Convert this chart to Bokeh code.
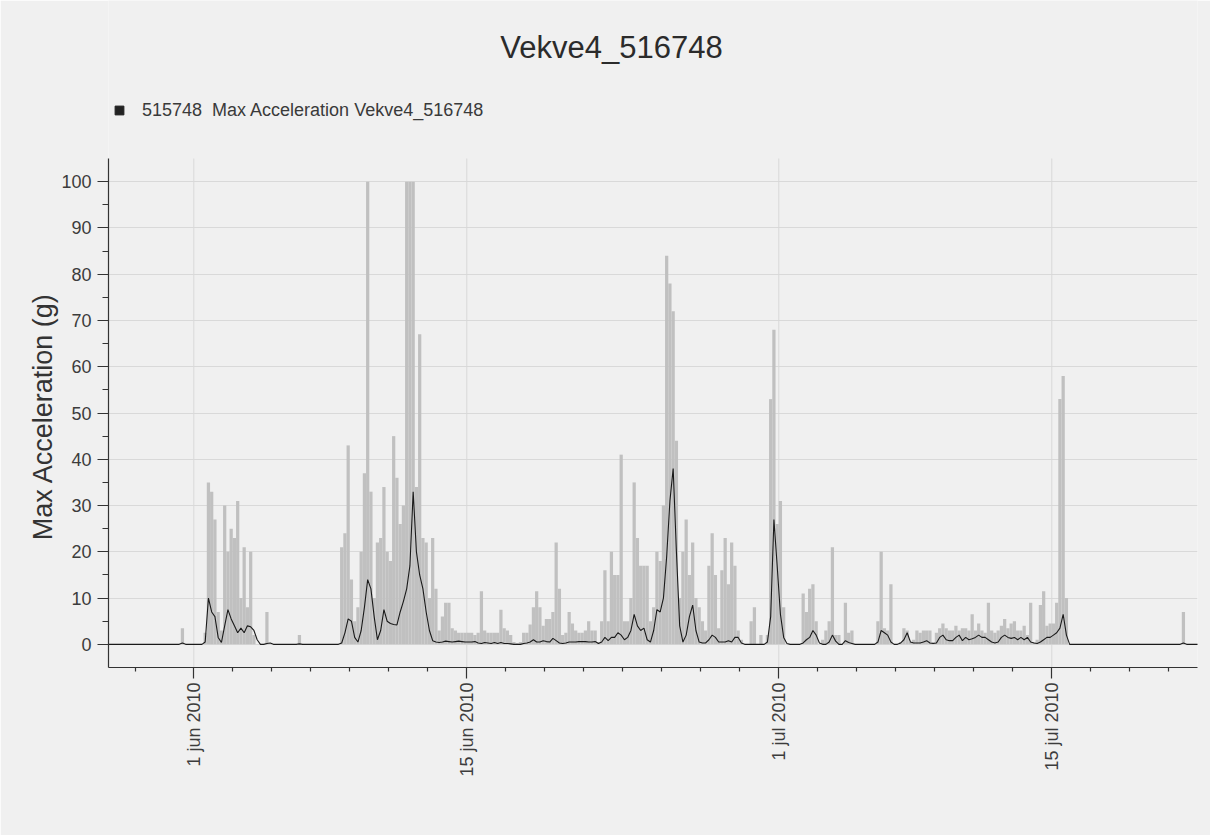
import numpy as np
from bokeh.plotting import figure
from bokeh.models import (Range1d, FixedTicker, CustomJSTickFormatter, Label,
                          Legend, LegendItem)
from bokeh.embed import file_html
from bokeh.resources import INLINE

# ---------------- data (4-hour bins, 6 values per day) ----------------
series_start = "2010-05-27T00:00"
bin_hours = 4

# gray bars: max acceleration per bin (g)
bars_may = [
    0, 0, 0, 0, 0, 0,            # 27 May
    0, 0, 0, 0, 0, 0,            # 28 May
    0, 0, 0, 0, 0, 0,            # 29 May
    0, 0, 0, 0, 0, 0,            # 30 May
    0, 0, 3.5, 0, 0, 0,          # 31 May
]
bars_jun_a = [
    0, 0, 0, 2.5, 35, 33,        # 1 Jun
    27, 7, 3, 30, 20, 25,        # 2 Jun
    23, 31, 10, 21, 8, 20,       # 3 Jun
    2, 0, 0, 0, 7, 0,            # 4 Jun
    0, 0, 0, 0, 0, 0,            # 5 Jun
    0, 0, 2, 0, 0, 0,            # 6 Jun
    0, 0, 0, 0, 0, 0,            # 7 Jun
    0, 0, 0, 21, 24, 43,         # 8 Jun
    14, 5, 8, 20, 37, 100,       # 9 Jun
    33, 10, 22, 23, 34, 20,      # 10 Jun
]
bars_jun_b = [
    18, 45, 36, 26, 30, 100,     # 11 Jun
    100, 100, 34, 67, 23, 22,    # 12 Jun
    10, 23, 12, 3, 6, 9,         # 13 Jun
    9, 3.5, 3, 2.5, 2.5, 2.5,    # 14 Jun
    2.5, 2.5, 2, 2.5, 11.5, 3,   # 15 Jun
    2.5, 2.5, 2.5, 2.5, 7.5, 3.5,  # 16 Jun
    3, 2, 0.5, 0.3, 0.5, 2.5,    # 17 Jun
    2.5, 4.3, 8, 11.5, 8, 4,     # 18 Jun
    5.5, 5.5, 7, 22, 12, 2,      # 19 Jun
    2.5, 7, 4.5, 3, 2.5, 2.5,    # 20 Jun
]
bars_jun_c = [
    3, 5, 3, 3, 0.5, 5,          # 21 Jun
    16, 5, 20, 15, 15, 41,       # 22 Jun
    5, 5, 10, 35, 23, 17,        # 23 Jun
    17, 17, 5, 8, 20, 18,        # 24 Jun
    30, 84, 78, 72, 44, 10,      # 25 Jun
    20, 27, 15, 22, 10, 8,       # 26 Jun
    5, 3, 17, 24, 15, 3.5,       # 27 Jun
    16, 23, 13, 22, 17, 3,       # 28 Jun
    1, 0, 0, 5, 8, 0,            # 29 Jun
    2, 0, 2, 53, 68, 26,         # 30 Jun
]
bars_jul_a = [
    31, 8, 0, 0, 0, 0,           # 1 Jul
    0, 11, 7, 12, 13, 5,         # 2 Jul
    0, 1, 3, 5, 21, 2,           # 3 Jul
    2, 0, 9, 2.5, 3, 0,          # 4 Jul
    0, 0, 0, 0, 0, 0,            # 5 Jul
    5, 20, 3.5, 3, 13, 0,        # 6 Jul
    0, 0.5, 3.5, 3, 0.5, 1,      # 7 Jul
    3, 2.5, 3, 3, 3, 0.5,        # 8 Jul
    2.5, 3.5, 4.5, 3.5, 3, 3,    # 9 Jul
    4, 3, 3.5, 3.5, 3, 6.5,      # 10 Jul
]
bars_jul_b = [
    3, 4.5, 3, 2.5, 9, 3,        # 11 Jul
    2.5, 3, 4, 5.5, 3.5, 4.5,    # 12 Jul
    5, 3, 3, 4, 2, 9,            # 13 Jul
    0.5, 1, 8.5, 11.5, 4, 4.5,   # 14 Jul
    4.5, 9, 53, 58, 10, 0,       # 15 Jul
    0, 0, 0, 0, 0, 0,            # 16 Jul
    0, 0, 0, 0, 0, 0,            # 17 Jul
    0, 0, 0, 0, 0, 0,            # 18 Jul
    0, 0, 0, 0, 0, 0,            # 19 Jul
    0, 0, 0, 0, 0, 0,            # 20 Jul
    0, 0, 0, 0, 7, 0,            # 21 Jul
    0, 0, 0, 0, 0, 0,            # 22 Jul
]

# black line: smoothed acceleration per bin (g)
line_may = [
    0, 0, 0, 0, 0, 0,
    0, 0, 0, 0, 0, 0,
    0, 0, 0, 0, 0, 0,
    0, 0, 0, 0, 0, 0,
    0, 0, 0.3, 0, 0, 0,
]
line_jun_a = [
    0, 0, 0, 0.5, 10, 7,
    6, 1.5, 0.4, 4, 7.5, 5.5,
    4, 2.5, 3.5, 2.5, 4, 3.8,
    3, 1, 0, 0, 0.2, 0.3,
    0, 0, 0, 0, 0, 0,
    0, 0, 0.1, 0, 0, 0,
    0, 0, 0, 0, 0, 0,
    0, 0, 0, 0.3, 2.5, 5.5,
    5, 1.5, 0.5, 3, 8, 14,
    12, 6, 1, 3, 7.5, 5,
]
line_jun_b = [
    4.5, 4.3, 4.2, 7, 9.3, 12,
    17, 33, 20, 15, 12, 7,
    3, 0.8, 0.5, 0.4, 0.5, 0.7,
    0.6, 0.5, 0.6, 0.7, 0.6, 0.5,
    0.5, 0.5, 0.6, 0.3, 0.2, 0.4,
    0.3, 0.2, 0.4, 0.2, 0.4, 0.2,
    0.2, 0.1, 0, 0, 0, 0.2,
    0.3, 0.5, 1, 0.5, 0.5, 0.8,
    0.6, 0.5, 1.3, 0.8, 0.3, 0.2,
    0.3, 0.5, 0.5, 0.5, 0.6, 0.6,
]
line_jun_c = [
    0.6, 0.5, 0.5, 0.6, 0.2, 0.5,
    1.5, 0.8, 1.5, 1.5, 2.5, 2,
    1, 1.5, 3, 6.5, 4, 3,
    3.5, 1, 0.5, 3, 7.5, 7,
    10, 19, 31, 38, 20, 4,
    0.5, 2, 6, 8.5, 3, 0.5,
    0.3, 0.3, 1, 2, 1.5, 0.5,
    0.5, 0.5, 0.8, 0.5, 1.5, 1.5,
    0.3, 0, 0, 0, 0, 0,
    0, 0, 0.5, 6, 27, 17,
]
line_jul_a = [
    6.5, 1.5, 0.2, 0, 0, 0,
    0, 0.3, 1, 1.5, 3, 2,
    0.3, 0, 0, 0.5, 2, 0.7,
    0, 0, 0.8, 0.4, 0.2, 0,
    0, 0, 0, 0, 0, 0,
    0.5, 3, 2.5, 2, 0.5, 0,
    0, 0.3, 1, 2.5, 0.5, 0.3,
    0.3, 0.3, 0.5, 0.8, 0.3, 0.2,
    0.3, 1.5, 2, 1, 0.8, 0.8,
    1.5, 2, 0.8, 1.5, 1, 1.2,
]
line_jul_b = [
    1.5, 2, 1.5, 1.5, 1, 0.5,
    0.3, 0.5, 1.5, 2, 1.5, 1.3,
    1.5, 1, 1.5, 1, 1.5, 0.5,
    0.3, 0.2, 0.5, 1, 1.5, 1.5,
    2, 2.5, 3.5, 6.5, 2, 0,
    0, 0, 0, 0, 0, 0,
    0, 0, 0, 0, 0, 0,
    0, 0, 0, 0, 0, 0,
    0, 0, 0, 0, 0, 0,
    0, 0, 0, 0, 0, 0,
    0, 0, 0, 0, 0.3, 0,
    0, 0, 0, 0, 0, 0,
]

x_start = "2010-05-27T15:01"
x_end = "2010-07-22T11:20"
major_dates = ["2010-06-01", "2010-06-15", "2010-07-01", "2010-07-15"]
minor_dates = ["2010-05-29", "2010-06-03", "2010-06-05", "2010-06-07", "2010-06-09",
               "2010-06-11", "2010-06-13", "2010-06-17", "2010-06-19", "2010-06-21",
               "2010-06-23", "2010-06-25", "2010-06-27", "2010-06-29", "2010-07-03",
               "2010-07-05", "2010-07-07", "2010-07-09", "2010-07-11", "2010-07-13",
               "2010-07-17", "2010-07-19", "2010-07-21"]
y_min, y_max = -5, 105
y_major = [0, 10, 20, 30, 40, 50, 60, 70, 80, 90, 100]
y_minor = [5, 15, 25, 35, 45, 55, 65, 75, 85, 95]

title_text = "Vekve4_516748"
legend_text = "515748  Max Acceleration Vekve4_516748"
y_label = "Max Acceleration (g)"

# ---------------- build ----------------
bars = bars_may + bars_jun_a + bars_jun_b + bars_jun_c + bars_jul_a + bars_jul_b
line = line_may + line_jun_a + line_jun_b + line_jun_c + line_jul_a + line_jul_b

t0 = np.datetime64(series_start)
step = np.timedelta64(bin_hours, "h")
centers = t0 + np.arange(len(bars)) * step + step / 2


def to_ms(s):
    return float((np.datetime64(s) - np.datetime64("1970-01-01T00:00")) / np.timedelta64(1, "ms"))


# The frame reaches up to the top of the canvas so that the title and the
# legend can live inside it; the value axis itself only spans y_min..y_max.
FRAME_H = 667            # px, top of canvas to the category axis
AXIS_H = 509             # px used by y_min..y_max
y_top = y_max + (FRAME_H - AXIS_H) * (y_max - y_min) / AXIS_H

p = figure(width=1210, height=835, x_axis_type="datetime",
           x_range=Range1d(to_ms(x_start), to_ms(x_end)),
           y_range=Range1d(y_min, y_top),
           output_backend="svg", toolbar_location=None,
           min_border_left=108, min_border_right=13,
           min_border_top=0, min_border_bottom=835 - FRAME_H,
           background_fill_color="#f0f0f0", border_fill_color="#f0f0f0",
           outline_line_color=None)

major_ms = [to_ms(d) for d in major_dates]
minor_ms = [to_ms(d) for d in minor_dates]

# vertical grid lines at the major dates, limited to the value-axis span
p.segment(x0=major_ms, x1=major_ms, y0=[y_min] * len(major_ms), y1=[y_max] * len(major_ms),
          line_color="#d9d9d9", line_width=1)

p.vbar(x=centers, top=bars, bottom=0, width=bin_hours * 3600 * 1000,
       fill_color="#c0c0c0", line_color=None)
p.line(x=centers, y=line, line_color="#1a1a1a", line_width=1.1)

# title
p.add_layout(Label(x=503, y=FRAME_H - 47, x_units="screen", y_units="screen",
                   text=title_text, text_align="center", text_baseline="alphabetic",
                   text_font="Liberation Sans", text_font_size="31px",
                   text_color="#2b2b2b"))

# legend (marker renderer holds one point outside the visible range)
leg_r = p.scatter(x=[to_ms("2010-05-20")], y=[-50], marker="square", size=9,
                  fill_color="#222222", line_color="#222222")
legend = Legend(items=[LegendItem(label=legend_text, renderers=[leg_r])],
                location=(0, FRAME_H - 121), orientation="horizontal",
                background_fill_alpha=0, border_line_color=None,
                padding=0, margin=0, spacing=0,
                glyph_width=22, glyph_height=22, label_standoff=12,
                label_text_font="Liberation Sans", label_text_font_size="18px",
                label_text_color="#3a3a3a")
p.add_layout(legend, "center")

# x axis
xticker = FixedTicker(ticks=major_ms, minor_ticks=minor_ms)
p.xaxis.ticker = xticker
p.xgrid.visible = False
p.xaxis.formatter = CustomJSTickFormatter(code="""
const m = ["jan","feb","mar","apr","mai","jun","jul","aug","sep","okt","nov","des"];
const d = new Date(tick);
return d.getUTCDate() + " " + m[d.getUTCMonth()] + " " + d.getUTCFullYear();
""")
p.xaxis.major_label_orientation = np.pi / 2
p.xaxis.major_tick_out = 11
p.xaxis.major_tick_in = 0
p.xaxis.minor_tick_out = 4
p.xaxis.minor_tick_in = 0
p.xaxis.major_label_standoff = 4

# y axis
yticker = FixedTicker(ticks=y_major, minor_ticks=y_minor)
p.yaxis.ticker = yticker
p.ygrid.ticker = yticker
p.yaxis.bounds = (y_min, y_max)
p.yaxis.major_tick_out = 11
p.yaxis.major_tick_in = 0
p.yaxis.minor_tick_out = 6
p.yaxis.minor_tick_in = 0
p.yaxis.major_label_standoff = 6
# the axis title is centred on the whole frame; trailing spaces move the
# visible words down to the middle of the value axis
p.yaxis.axis_label = y_label + " " * 22
p.yaxis.axis_label_text_font = "Liberation Sans"
p.yaxis.axis_label_text_font_size = "27px"
p.yaxis.axis_label_text_font_style = "normal"
p.yaxis.axis_label_text_color = "#333333"
p.yaxis.axis_label_standoff = 0

for ax in (p.xaxis, p.yaxis):
    ax.axis_line_color = "#333333"
    ax.axis_line_width = 1.2
    ax.major_tick_line_color = "#333333"
    ax.major_tick_line_width = 1.2
    ax.minor_tick_line_color = "#333333"
    ax.minor_tick_line_width = 1.2
    ax.major_label_text_font = "Liberation Sans"
    ax.major_label_text_font_size = "18px"
    ax.major_label_text_color = "#3c3c3c"

p.ygrid.grid_line_color = "#d9d9d9"
p.ygrid.grid_line_width = 1

open("out.html", "w").write(file_html(p, INLINE))
